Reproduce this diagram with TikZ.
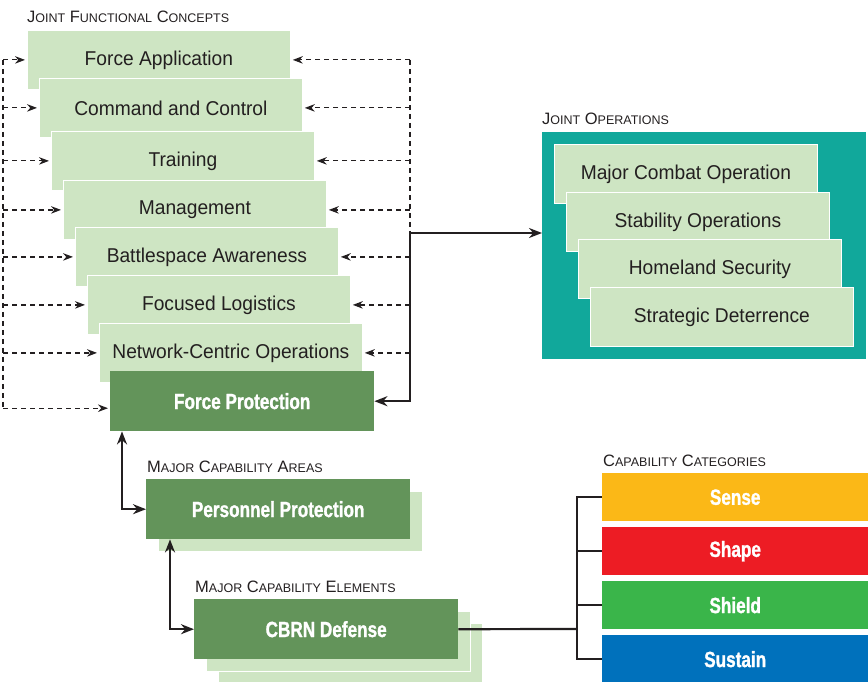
\documentclass[tikz,border=0pt]{standalone}
\usepackage{fontspec}
\setmainfont{Liberation Sans}[FakeStretch=0.96]
\newfontfamily\condbold[FakeStretch=0.78, FakeBold=1.2]{Liberation Sans}
\newfontfamily\headfont[FakeStretch=1.0]{Liberation Sans}
\usetikzlibrary{arrows.meta}

\definecolor{lightgreen}{HTML}{CEE5C3}
\definecolor{darkgreen}{HTML}{63945A}
\definecolor{jointteal}{HTML}{11A89B}
\definecolor{textdark}{HTML}{231F20}
\definecolor{sensecol}{HTML}{FBB817}
\definecolor{shapecol}{HTML}{ED1C24}
\definecolor{shieldcol}{HTML}{3AB54A}
\definecolor{sustaincol}{HTML}{0071BC}

\newcommand\smallcp[1]{{\fontsize{12.5}{12.5}\selectfont #1}}

\begin{document}
\begin{tikzpicture}[x = 1pt, y = -1pt,
		lightbox/.style = {draw = white, line width = 0.8pt, fill = lightgreen, anchor = north west, inner sep = 0pt,
			minimum width = 263pt, minimum height = 59pt, text = textdark, font = \fontsize{20}{20}\selectfont},
		darkbox/.style = {fill = darkgreen, anchor = north west, inner sep = 0pt, minimum width = 264pt, minimum height = 60pt,
			text = white, font = \condbold\bfseries\fontsize{22}{22}\selectfont},
		catbox/.style = {anchor = north west, inner sep = 0pt, minimum width = 266pt, minimum height = 48pt,
			text = white, font = \condbold\bfseries\fontsize{22}{22}\selectfont},
		heading/.style = {anchor = base west, inner sep = 0pt, text = textdark, font = \headfont\fontsize{16.5}{16.5}\selectfont},
		dashline/.style = {line width = 1.2pt, dash pattern = on 5pt off 4pt, textdark},
		dasharrow/.style = {dashline, -{Stealth[length = 10pt, width = 7.5pt]}, shorten > = 2pt},
		solidline/.style = {line width = 2.2pt, textdark},
		solidarrow/.style = {solidline, {Stealth[length = 13pt, width = 10pt]}-{Stealth[length = 13pt, width = 10pt]}}]
		\useasboundingbox (0, 0) rectangle (868, 682);
		% joint functional concepts
		\node[heading] (jfchead) at (27, 23) {J\smallcp{OINT} F\smallcp{UNCTIONAL} C\smallcp{ONCEPTS}};
		\foreach \i/\ytop/\txt in {0/30/Force Application, 1/78/Command and Control, 2/131/Training, 3/180/Management,
			4/227/Battlespace Awareness, 5/275/Focused Logistics, 6/323/Network-Centric Operations}
			\node[lightbox] (jfc\i) at (27 + 12*\i, \ytop) {\txt};
		\node[darkbox] (fp) at (110, 371) {Force Protection};
		\coordinate (lbus) at (3, 0);
		\coordinate (rbus) at (410, 0);
		\draw[dashline] (lbus |- jfc0.west) -- ([yshift = -7pt]lbus |- fp.west);
		\draw[dashline] (rbus |- jfc0.east) -- (rbus |- jfc6.east);
		\foreach \i in {0,..., 6}
			\draw[dasharrow] (lbus |- jfc\i.west) -- (jfc\i.west);
		\foreach \i in {0,..., 6}
			\draw[dasharrow] (rbus |- jfc\i.east) -- (jfc\i.east);
		\draw[dasharrow] ([yshift = -7pt]lbus |- fp.west) -- ([yshift = -7pt]fp.west);
		% joint operations
		\node[heading] (jophead) at (542, 125) {J\smallcp{OINT} O\smallcp{PERATIONS}};
		\node[fill = jointteal, anchor = north west, inner sep = 0pt, minimum width = 324pt, minimum height = 227pt] (jop) at (542, 132) {};
		\foreach \i/\ytop/\txt in {0/144/Major Combat Operation, 1/192/Stability Operations, 2/239/Homeland Security, 3/287/Strategic Deterrence}
			\node[lightbox] (op\i) at (554 + 12*\i, \ytop) {\txt};
		\coordinate (jct) at (410, 233);
		\draw[solidarrow] (fp.east) -- (jct |- fp.east) -- (jct) -- (jct -| jop.west);
		% capability areas and elements
		\node[heading] (mcahead) at (147, 472) {M\smallcp{AJOR} C\smallcp{APABILITY} A\smallcp{REAS}};
		\node[lightbox, minimum width = 264pt, minimum height = 60pt] (ppback) at (158, 491) {};
		\node[darkbox] (pp) at (146, 479) {Personnel Protection};
		\node[heading] (mcehead) at (195, 592) {M\smallcp{AJOR} C\smallcp{APABILITY} E\smallcp{LEMENTS}};
		\node[lightbox, minimum width = 264pt, minimum height = 60pt] (cbrnbackb) at (218, 623) {};
		\node[lightbox, minimum width = 264pt, minimum height = 60pt] (cbrnbacka) at (206, 611) {};
		\node[darkbox] (cbrn) at (194, 599) {CBRN Defense};
		\draw[solidarrow] ([xshift = 12pt]fp.south west) |- (pp.west);
		\draw[solidarrow] ([xshift = 24pt]pp.south west) |- (cbrn.west);
		% capability categories
		\node[heading] (cathead) at (603, 466) {C\smallcp{APABILITY} C\smallcp{ATEGORIES}};
		\node[catbox, fill = sensecol] (sense) at (602, 473) {Sense};
		\node[catbox, fill = shapecol] (shape) at (602, 527) {Shape};
		\node[catbox, fill = shieldcol] (shield) at (602, 581) {Shield};
		\node[catbox, fill = sustaincol] (sustain) at (602, 635) {Sustain};
		\coordinate (fork) at (577, 629);
		\draw[solidline] (cbrn.east) -- (fork);
		\foreach \c in {sense, shape, shield, sustain}
			\draw[solidline] (fork) |- (\c.west);
\end{tikzpicture}
\end{document}
